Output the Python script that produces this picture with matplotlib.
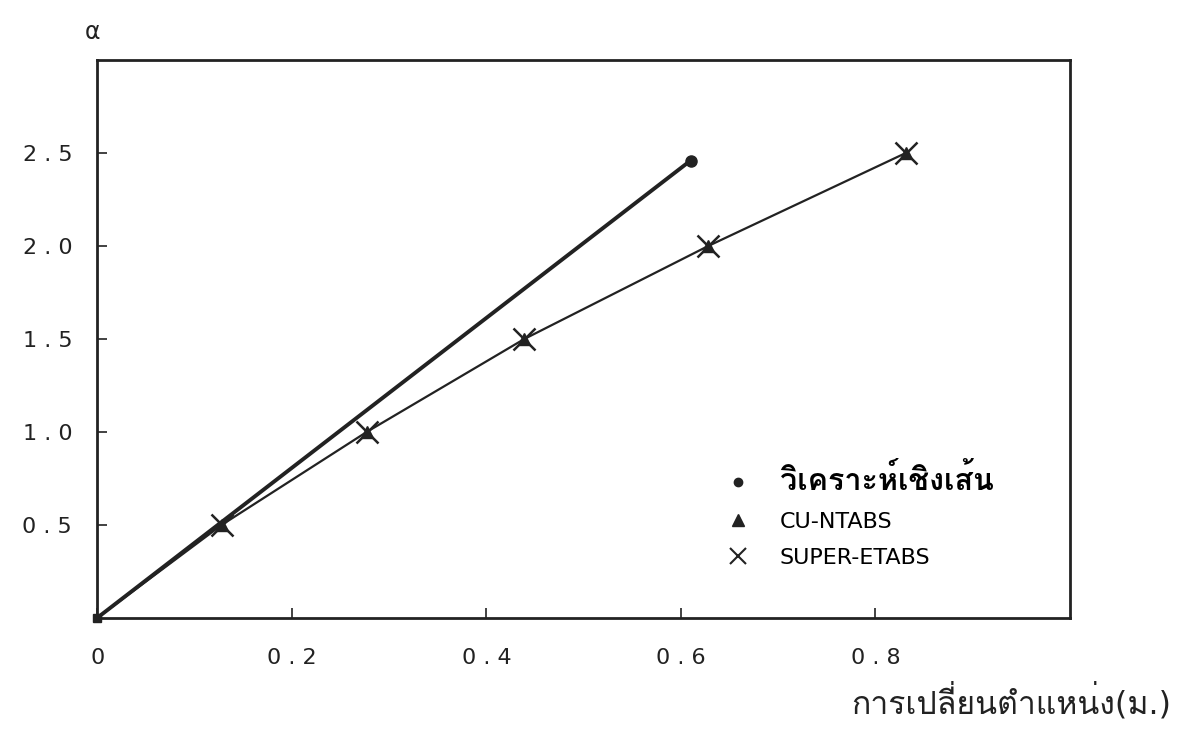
import matplotlib
matplotlib.use("Agg")
import matplotlib.pyplot as plt
from matplotlib import font_manager
from matplotlib.ft2font import FT2Font
from matplotlib.lines import Line2D

# data
x_linear = [0.0, 0.61]
a_linear = [0.0, 2.46]

x_fem = [0.0, 0.128, 0.277, 0.439, 0.628, 0.831]
a_cu = [0.0, 0.5, 1.0, 1.5, 2.0, 2.5]
a_super = [0.0, 0.5, 1.0, 1.5, 2.0, 2.5]

xticks = [0, 0.2, 0.4, 0.6, 0.8]
yticks = [0.5, 1.0, 1.5, 2.0, 2.5]

labels = ["วิเคราะห์เชิงเส้น", "CU-NTABS", "SUPER-ETABS"]
xlabel = "การเปลี่ยนตำแหน่ง(ม.)"


def find_thai_font():
    # look for any installed font that has Thai glyphs
    for f in font_manager.fontManager.ttflist:
        try:
            cmap = FT2Font(f.fname).get_charmap()
        except Exception:
            continue
        if 0x0E27 in cmap and 0x0E01 in cmap:
            return f.name
    return None


thai = find_thai_font()
base = "DejaVu Sans"
fam = [base, thai] if thai else [base]
plt.rcParams['font.family'] = fam

fig = plt.figure(figsize=(11.85, 7.33), dpi=100)
ax = fig.add_axes([0.082, 0.157, 0.821, 0.761])

ax.plot(x_linear, a_linear, color='#222222', lw=2.8, marker='o', ms=8,
        markevery=[1], solid_capstyle='round')
ax.plot(x_fem, a_super, color='#222222', lw=1.6, marker='x', ms=16, mew=1.8,
        markevery=list(range(1, len(x_fem))))
ax.plot(x_fem, a_cu, color='#222222', lw=0, marker='^', ms=9,
        markevery=list(range(1, len(x_fem))))
ax.plot([0], [0], marker='s', color='#222222', ms=6, clip_on=False)

ax.set_xlim(0, 1.0)
ax.set_ylim(0, 3.0)
ax.set_xticks(xticks)
ax.set_yticks(yticks)
ax.set_xticklabels(["0"] + [f"{v:.1f}".replace(".", " . ") for v in xticks[1:]])
ax.set_yticklabels([f"{v:.1f}".replace(".", " . ") for v in yticks])
ax.tick_params(direction='in', length=7, width=1.2, colors='#222222',
               labelsize=16, pad=18)
ax.tick_params(axis='x', pad=22)
for s in ax.spines.values():
    s.set_linewidth(2)
    s.set_color('#222222')

ax.text(-0.005, 3.15, "α", fontsize=17, ha='center',
        va='center', color='#222222')

fig.text(0.988, 0.042, xlabel, ha='right', va='center', fontsize=23,
         color='#222222')

handles = [
    Line2D([], [], color='#222222', marker='o', ms=6, ls='none'),
    Line2D([], [], color='#222222', marker='^', ms=8, ls='none'),
    Line2D([], [], color='#222222', marker='x', ms=11, mew=1.5, ls='none'),
]
leg = ax.legend(handles, labels, loc='upper left',
                bbox_to_anchor=(0.615, 0.312), frameon=False,
                handletextpad=0.9, labelspacing=0.72, fontsize=16)
leg.get_texts()[0].set_fontsize(22)
leg.get_texts()[0].set_fontweight('bold')

fig.savefig("out.png", dpi=100, facecolor='white')
